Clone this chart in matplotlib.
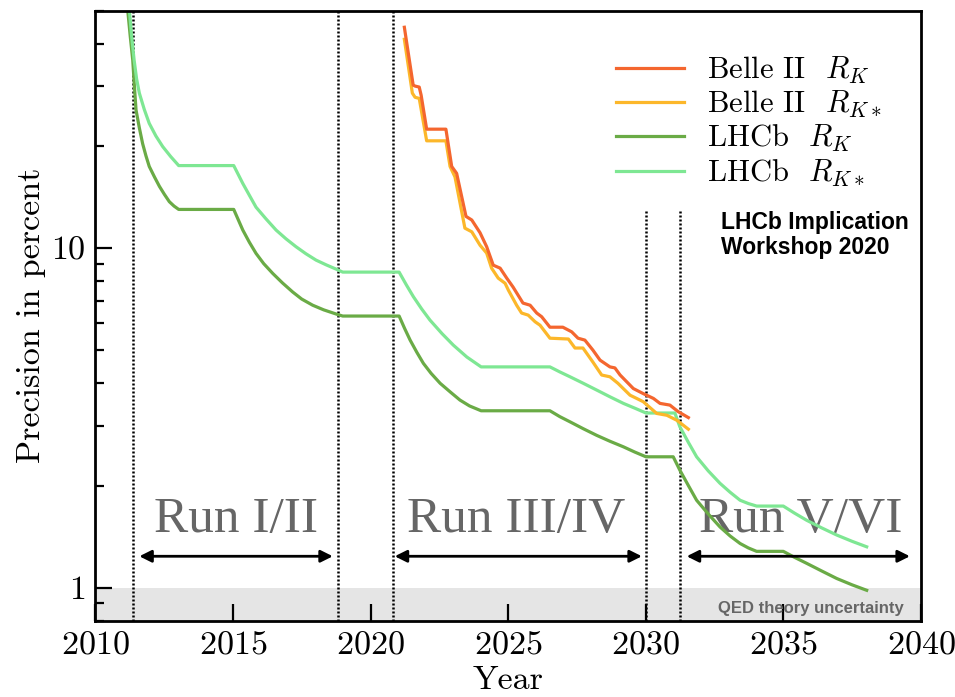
import matplotlib
matplotlib.use('Agg')
import matplotlib.pyplot as plt
from matplotlib.ticker import FuncFormatter, NullFormatter, LogLocator

plt.rcParams['font.family'] = 'serif'
plt.rcParams['font.serif'] = ['cmr10']
plt.rcParams['mathtext.fontset'] = 'cm'
plt.rcParams['axes.unicode_minus'] = False
plt.rcParams['axes.formatter.use_mathtext'] = True

# LHCb R_K
lhcbRkAno = [2011.18, 2011.27, 2011.36, 2011.42, 2011.48, 2011.60, 2011.72, 2011.84, 2011.96,
             2012.15, 2012.33, 2012.51, 2012.69, 2012.86, 2013.03,
             2015.03, 2015.36, 2015.60, 2015.84, 2016.12, 2016.45, 2016.80, 2017.17,
             2017.50, 2017.90, 2018.30, 2018.77, 2018.99,
             2021.04, 2021.24, 2021.44, 2021.68, 2021.92, 2022.20, 2022.53, 2022.90,
             2023.25, 2023.60, 2024.02,
             2026.52, 2026.88, 2027.25, 2027.73, 2028.22, 2028.70, 2029.19, 2029.60, 2030.01,
             2031.00, 2031.24, 2031.55, 2031.85, 2032.27, 2032.70, 2033.07, 2033.43,
             2033.73, 2034.03,
             2035.00, 2035.40, 2035.85, 2036.40, 2036.94, 2037.50, 2038.03]
lhcbRk = [50, 42, 35.8, 30.0, 25.5, 22.6, 20.3, 18.7, 17.4,
          16.2, 15.2, 14.4, 13.7, 13.3, 13.0,
          13.0, 11.3, 10.4, 9.65, 9.0, 8.42, 7.9, 7.43,
          7.08, 6.79, 6.58, 6.39, 6.31,
          6.31, 5.8, 5.36, 4.94, 4.58, 4.28, 4.00, 3.77,
          3.57, 3.43, 3.32,
          3.32, 3.19, 3.08, 2.94, 2.81, 2.70, 2.60, 2.51, 2.43,
          2.43, 2.22, 2.00, 1.81, 1.65, 1.51, 1.42, 1.35,
          1.31, 1.28,
          1.28, 1.23, 1.18, 1.12, 1.065, 1.02, 0.983]

# LHCb R_K*
lhcbRkstAno = [2011.24, 2011.32, 2011.41, 2011.50, 2011.60, 2011.78, 2011.96, 2012.20,
               2012.45, 2012.74, 2013.03,
               2015.03, 2015.36, 2015.60, 2015.84, 2016.20, 2016.57, 2016.93, 2017.29,
               2017.65, 2018.02, 2018.40, 2018.77, 2018.99,
               2021.04, 2021.30, 2021.56, 2021.86, 2022.16, 2022.60, 2023.01, 2023.50, 2024.02,
               2026.52, 2026.88, 2027.25, 2027.73, 2028.22, 2028.70, 2029.19, 2029.60, 2030.01,
               2031.06, 2031.24, 2031.55, 2031.85, 2032.27, 2032.70, 2033.07, 2033.43,
               2033.73, 2034.03,
               2035.00, 2035.40, 2035.85, 2036.40, 2036.94, 2037.50, 2038.03]
lhcbRkst = [50, 42, 35.8, 31.5, 28.6, 25.6, 23.3, 21.4,
            19.9, 18.6, 17.5,
            17.5, 15.5, 14.3, 13.2, 12.2, 11.3, 10.65, 10.1,
            9.63, 9.22, 8.92, 8.66, 8.50,
            8.50, 7.8, 7.19, 6.62, 6.14, 5.6, 5.18, 4.78, 4.47,
            4.47, 4.32, 4.18, 4.00, 3.82, 3.65, 3.49, 3.38, 3.27,
            3.27, 2.98, 2.68, 2.43, 2.21, 2.03, 1.91, 1.81,
            1.77, 1.74,
            1.74, 1.66, 1.58, 1.50, 1.43, 1.37, 1.32]

# Belle II R_K
belleRkAno = [2021.23, 2021.55, 2021.62, 2021.77, 2021.84, 2022.04, 2022.74, 2022.95,
              2023.13, 2023.47, 2023.68, 2023.98, 2024.22, 2024.46, 2024.71, 2024.95,
              2025.18, 2025.54, 2025.80, 2026.04, 2026.22, 2026.52, 2026.99, 2027.31,
              2027.54, 2027.79, 2028.08, 2028.34, 2028.70, 2028.88, 2029.07, 2029.55,
              2029.91, 2030.28, 2030.52, 2030.88, 2031.18, 2031.55]
belleRk = [44.7, 30.2, 30.0, 29.8, 28.2, 22.4, 22.4, 17.4,
           16.6, 12.4, 12.1, 11.1, 10.1, 8.91, 8.73, 8.16,
           7.68, 6.89, 6.79, 6.44, 6.28, 5.85, 5.85, 5.67,
           5.43, 5.36, 5.01, 4.68, 4.47, 4.44, 4.23, 3.86,
           3.73, 3.61, 3.49, 3.45, 3.30, 3.17]

# Belle II R_K*
belleRkstAno = [2021.23, 2021.52, 2021.62, 2021.77, 2022.04, 2022.74, 2022.89, 2023.07,
                2023.43, 2023.68, 2023.98, 2024.22, 2024.40, 2024.64, 2024.89, 2025.01,
                2025.31, 2025.49, 2025.73, 2025.98, 2026.16, 2026.52, 2027.19, 2027.43,
                2027.72, 2028.08, 2028.40, 2028.70, 2028.99, 2029.43, 2029.67, 2029.91,
                2030.40, 2030.77, 2031.14, 2031.55]
belleRkst = [41.2, 28.6, 27.8, 27.6, 20.7, 20.7, 17.4, 16.2,
             11.45, 11.17, 10.2, 9.67, 8.73, 8.16, 7.88, 7.52,
             6.79, 6.44, 6.35, 6.07, 5.93, 5.43, 5.40, 5.08,
             5.08, 4.62, 4.23, 4.18, 4.00, 3.69, 3.61, 3.53,
             3.26, 3.22, 3.11, 2.93]

# linhas verticais (fim/inicio dos runs) e runs
divisoes = [2011.38, 2018.83, 2020.81, 2030.01, 2031.24]
runNomes = ['Run I/II', 'Run III/IV', 'Run V/VI']
runCentro = [2015.12, 2025.31, 2035.64]
runInicio = [2011.60, 2020.88, 2031.49]
runFim = [2018.63, 2029.86, 2039.60]

anosTicks = [2010, 2015, 2020, 2025, 2030, 2035, 2040]

fig = plt.figure(figsize=(9.55, 6.97), dpi=100)
ax = fig.add_axes([0.0998, 0.1095, 0.8645, 0.8751])
ax.set_yscale('log')
ax.set_xlim(2010, 2040)
ax.set_ylim(0.8, 50)

# faixa QED
ax.axhspan(0.8, 1.0, color='#e5e5e5', zorder=0, lw=0)
ax.text(2039.36, 0.845, 'QED theory uncertainty', family='Liberation Sans',
        weight='bold', fontsize=12, color='#666666', ha='right', va='baseline')

for i, d in enumerate(divisoes):
    topo = 50 if i < 3 else 12.9
    ax.vlines(d, 0.8, topo, color='black', lw=1.8, linestyles=(0, (0.8, 0.8)), zorder=1)

for nome, c, a, b in zip(runNomes, runCentro, runInicio, runFim):
    ax.text(c, 1.46, nome, family='Liberation Serif', fontsize=37, color='#666666',
            ha='center', va='baseline', zorder=1)
    ax.annotate('', xy=(b, 1.238), xytext=(a, 1.238),
                arrowprops=dict(arrowstyle='<|-|>', color='black', lw=2,
                                mutation_scale=18, shrinkA=0, shrinkB=0))

plt.plot(belleRkAno, belleRk, color='#f4662f', lw=2.3, label=r'Belle II  $R_K$', zorder=4)
plt.plot(belleRkstAno, belleRkst, color='#fcb72a', lw=2.3, label=r'Belle II  $R_{K\ast}$', zorder=3)
plt.plot(lhcbRkAno, lhcbRk, color='#6aab46', lw=2.3, label=r'LHCb  $R_K$', zorder=2)
plt.plot(lhcbRkstAno, lhcbRkst, color='#7ee793', lw=2.3, label=r'LHCb  $R_{K\ast}$', zorder=2)

ax.text(2032.75, 12.9, 'LHCb Implication\nWorkshop 2020', family='Liberation Sans',
        weight='bold', fontsize=16.5, color='black', ha='left', va='top', linespacing=1.12)

ax.set_xticks(anosTicks)
ax.yaxis.set_major_locator(LogLocator(base=10, numticks=5))
ax.yaxis.set_minor_locator(LogLocator(base=10, subs=range(2, 10), numticks=10))
ax.yaxis.set_major_formatter(FuncFormatter(lambda v, p: '{:g}'.format(v)))
ax.yaxis.set_minor_formatter(NullFormatter())
ax.tick_params(axis='both', which='major', direction='in', length=12, width=1.6,
               labelsize=24.5, pad=7, top=False, right=False)
ax.tick_params(axis='y', which='minor', direction='in', length=6.5, width=1.6)
for s in ax.spines.values():
    s.set_linewidth(2)

plt.xlabel('Year', fontsize=24.5, labelpad=5)
plt.ylabel('Precision in percent', fontsize=24.5, labelpad=4)

plt.legend(frameon=False, loc='upper left', bbox_to_anchor=(0.612, 0.953), borderpad=0,
           handlelength=2.23, handletextpad=0.76, labelspacing=0.1, fontsize=22)

plt.savefig('out.png', dpi=100)
plt.close()
